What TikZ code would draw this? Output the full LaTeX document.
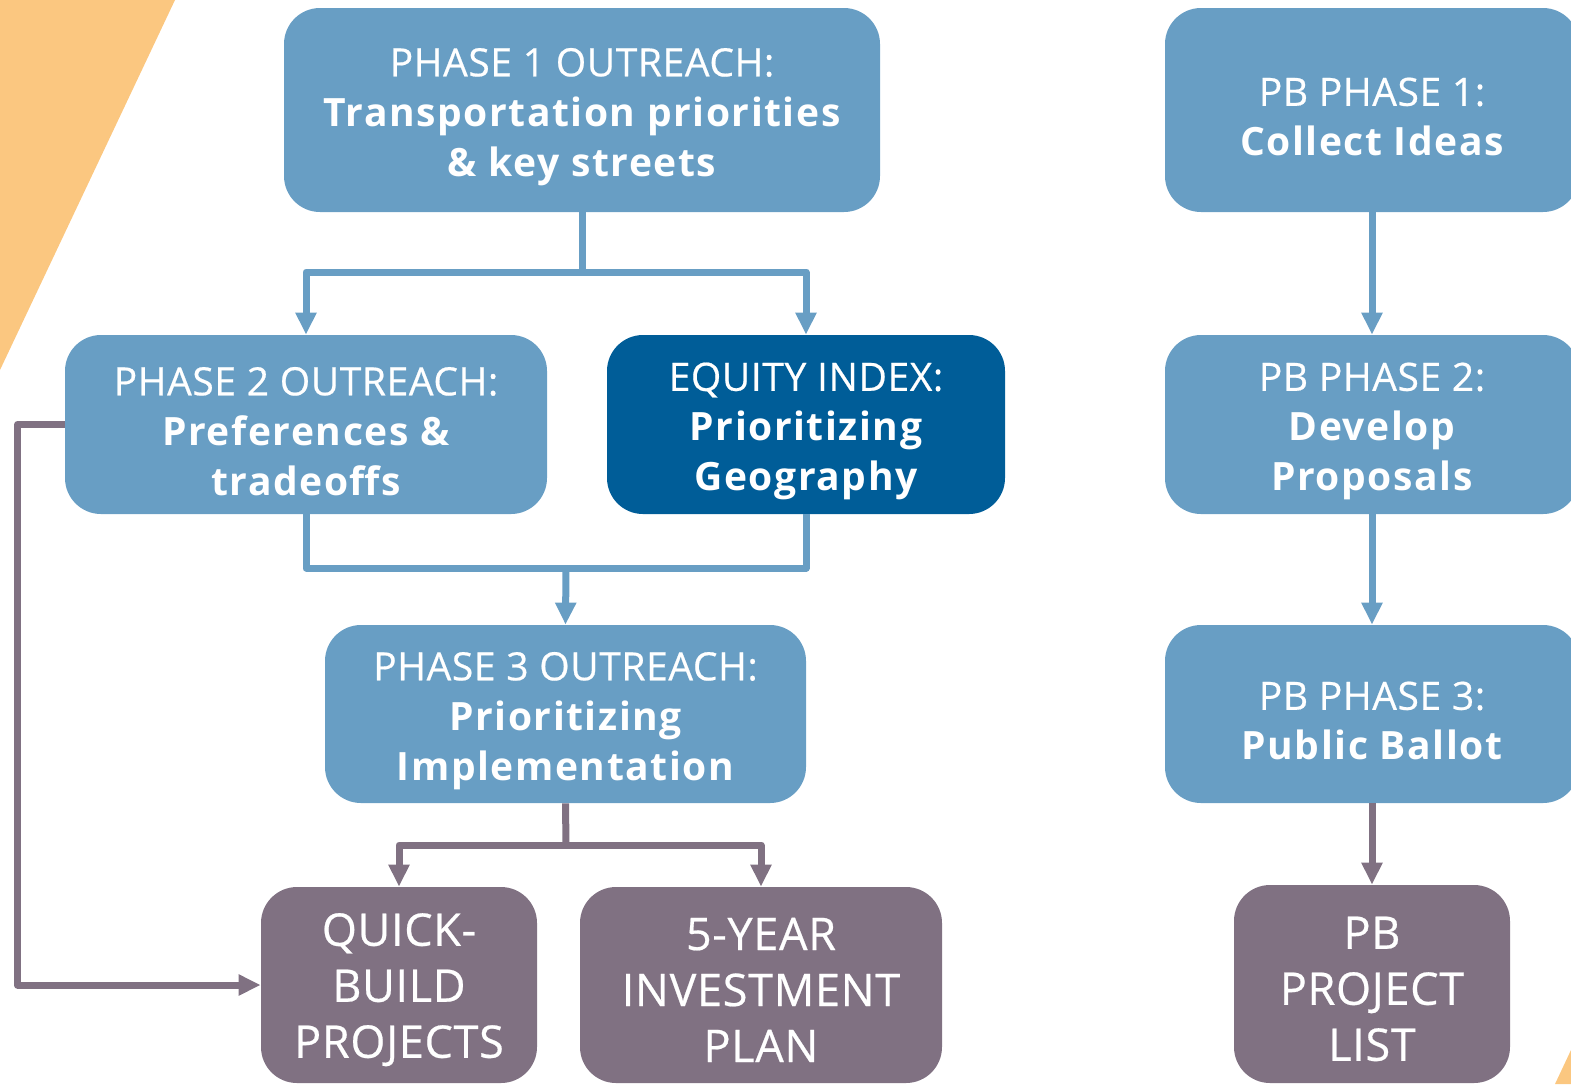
\documentclass[tikz,border=0pt]{standalone}
\usepackage{fontspec}
\setmainfont{Open Sans}[UprightFeatures={FakeBold=0.5,LetterSpace=1.5}]
\usetikzlibrary{arrows.meta}
\definecolor{routeblue}{HTML}{689EC4}
\definecolor{equityblue}{HTML}{005D98}
\definecolor{outcome}{HTML}{807182}
\definecolor{sun}{HTML}{FBC780}
\newcommand{\headline}[1]{\rule{0pt}{21pt}#1}
\newcommand{\keyline}[1]{{\bfseries\addfontfeature{LetterSpace=4}#1}}

\begin{document}
\begin{tikzpicture}[x=0.5pt,y=-0.5pt,
  box/.style={rectangle,rounded corners=18pt,text=white,align=center,inner sep=0pt,
    font=\fontsize{19.5}{25}\selectfont},
  phase/.style={box,fill=routeblue},
  equity/.style={box,fill=equityblue},
  result/.style={box,fill=outcome,font=\fontsize{22.5}{28}\selectfont},
  link/.style={line width=3.5pt,draw=routeblue,line join=round},
  plumlink/.style={link,draw=outcome},
  arr/.style={-{Triangle[width=10pt,length=11pt]}}]
  \useasboundingbox (0,0) rectangle (1571,1084);
  \clip (0,0) rectangle (1571,1084);
  \fill[sun] (0,0) -- (175,0) -- (0,370) -- cycle;
  \fill[sun] (1555,1084) -- (1571,1050) -- (1571,1084) -- cycle;

  \node[phase,minimum width=298pt,minimum height=102pt] (p1) at (582,110)
    {\headline{PHASE 1 OUTREACH:}\\ \keyline{Transportation priorities}\\ \keyline{\& key streets}};
  \node[phase,minimum width=241pt,minimum height=89.5pt] (p2) at (306,424.5)
    {\headline{PHASE 2 OUTREACH:}\\ \keyline{Preferences \&}\\ \keyline{tradeoffs}};
  \node[equity,minimum width=199pt,minimum height=89.5pt] (eq) at (806,424.5)
    {\headline{EQUITY INDEX:}\\ \keyline{Prioritizing}\\ \keyline{Geography}};
  \node[phase,minimum width=240.5pt,minimum height=89pt] (p3) at (565.5,714)
    {\headline{PHASE 3 OUTREACH:}\\ \keyline{Prioritizing}\\ \keyline{Implementation}};
  \node[result,minimum width=138pt,minimum height=98pt] (qb) at (399,985)
    {\headline{QUICK-}\\BUILD\\PROJECTS};
  \node[result,minimum width=181pt,minimum height=98pt] (plan) at (761,985)
    {\headline{5-YEAR}\\INVESTMENT\\PLAN};

  \node[phase,minimum width=207pt,minimum height=102pt] (pb1) at (1372,110)
    {\headline{PB PHASE 1:}\\ \keyline{Collect Ideas}};
  \node[phase,minimum width=207pt,minimum height=89.5pt] (pb2) at (1372,424.5)
    {\headline{PB PHASE 2:}\\ \keyline{Develop}\\ \keyline{Proposals}};
  \node[phase,minimum width=207pt,minimum height=89pt] (pb3) at (1372,714)
    {\headline{PB PHASE 3:}\\ \keyline{Public Ballot}};
  \node[result,minimum width=138pt,minimum height=99pt] (pblist) at (1372,984)
    {\headline{PB}\\PROJECT\\LIST};

  \coordinate (split1) at (582,272);
  \coordinate (merge2) at (566,568);
  \coordinate (split3) at (566,845);
  \draw[link] (p1.south) -- (split1);
  \draw[link,arr] (split1) -| (p2.north);
  \draw[link,arr] (split1) -| (eq.north);
  \draw[link] (p2.south) |- (merge2) -| (eq.south);
  \draw[link,arr] (merge2) -- (p3.north);
  \draw[plumlink] (p3.south) -- (split3);
  \draw[plumlink,arr] (split3) -| (qb.north);
  \draw[plumlink,arr] (split3) -| (plan.north);
  \draw[plumlink,arr] (p2.west) -- ++(-47,0) |- (qb.west);

  \draw[link,arr] (pb1) -- (pb2);
  \draw[link,arr] (pb2) -- (pb3);
  \draw[plumlink,arr] (pb3) -- (pblist);
\end{tikzpicture}
\end{document}
